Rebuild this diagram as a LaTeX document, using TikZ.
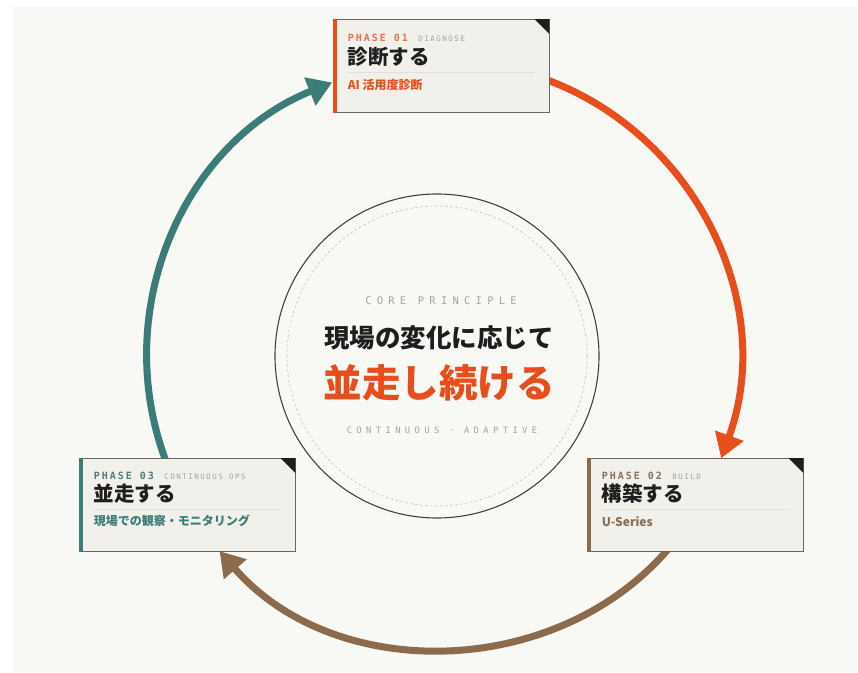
\documentclass[tikz,border=0pt]{standalone}
\usepackage{fontspec}
\usepackage{tikz}
\usetikzlibrary{arrows.meta,
  positioning,
  calc
}

\newfontfamily\jpfont{Noto Sans CJK JP}
\newfontfamily\tagmono[LetterSpace=20]{DejaVu Sans Mono}
\newfontfamily\widemono[LetterSpace=50]{DejaVu Sans Mono}

\definecolor{bgpaper}{HTML}{F8F8F4}
\definecolor{cardfill}{HTML}{F2F0EA}
\definecolor{phaseorange}{HTML}{E84E1B}
\definecolor{phasebrown}{HTML}{8B6B4B}
\definecolor{phaseteal}{HTML}{3C7C78}
\definecolor{labelgray}{HTML}{A3A3A0}
\definecolor{inkdark}{HTML}{1E1E1E}

\begin{document}
\begin{tikzpicture}[x=1pt, y=1pt, every node/.style={inner sep=0pt}]

        % Stile
        \tikzstyle{phasecard}=[draw=black!60, line width=0.8pt, fill=cardfill, minimum width=216pt, minimum height=93pt]
        \tikzstyle{phasetag}=[anchor=base west, font=\tagmono\bfseries\fontsize{10}{12}\selectfont]
        \tikzstyle{phaseeng}=[anchor=base west, text=labelgray, font=\tagmono\fontsize{7.5}{9}\selectfont]
        \tikzstyle{phasetitle}=[anchor=west, text=inkdark, font=\jpfont\bfseries\fontsize{20.5}{24}\selectfont]
        \tikzstyle{phasesub}=[anchor=west, font=\jpfont\bfseries\fontsize{12}{14}\selectfont]
        \tikzstyle{phaserule}=[draw=black!12, line width=0.8pt]
        \tikzstyle{cycleflow}=[line width=7pt, -{Triangle[length=24pt, width=29pt]}]

        % Hintergrund
        \useasboundingbox (0,0) rectangle (858,672);
        \fill[white] (0,0) rectangle (858,672);
        \fill[bgpaper] (13,0) rectangle (858,665);

        % Kreislauf
        \coordinate (cyc) at (443,315);
        \coordinate (p1out) at ($(cyc)+(72:296)$);
        \coordinate (p2in) at ($(cyc)+(-20:296)$);
        \coordinate (p2out) at ($(cyc)+(-38:296)$);
        \coordinate (p3in) at ($(cyc)+(-139:296)$);
        \coordinate (p3out) at ($(cyc)+(202:296)$);
        \coordinate (p1in) at ($(cyc)+(112:296)$);

        \draw[cycleflow, phaseorange] (p1out) to[bend left=46] (p2in);
        \draw[cycleflow, phasebrown] (p2out) to[bend left=50.5] (p3in);
        \draw[cycleflow, phaseteal] (p3out) to[bend left=45] (p1in);

        % Kern
        \node[circle, draw=inkdark!85, line width=1.1pt, minimum size=324pt] (core) at (437,316) {};
        \draw[labelgray!70, line width=0.6pt, dash pattern=on 2.5pt off 2.5pt] (core.center) circle[radius=150];
        \node[text=labelgray, font=\widemono\fontsize{10.5}{12}\selectfont] (corehead) at ($(core.center)+(4,55)$) {CORE PRINCIPLE};
        \node[text=inkdark, font=\jpfont\bfseries\fontsize{25.5}{30}\selectfont] (coreline) at ($(core.center)+(2,18)$) {現場の変化に応じて};
        \node[text=phaseorange, font=\jpfont\bfseries\fontsize{38.5}{44}\selectfont] (coremain) at ($(core.center)+(2,-27)$) {並走し続ける};
        \node[text=labelgray, font=\widemono\fontsize{8.8}{11}\selectfont] (corefoot) at ($(core.center)+(5,-74)$) {CONTINUOUS · ADAPTIVE};

        % Phase 01
        \node[phasecard] (p1) at (441,606) {};
        \draw[phaseorange, line width=4pt] ([xshift=2pt]p1.north west) -- ([xshift=2pt]p1.south west);
        \fill[inkdark] (p1.north east) -- ++(-15,0) -- ++(15,-15) -- cycle;
        \node[phasetag, text=phaseorange!80] (p1tag) at ([xshift=15pt, yshift=-22pt]p1.north west) {PHASE 01};
        \node[phaseeng] (p1eng) at ([xshift=10pt]p1tag.base east) {DIAGNOSE};
        \node[phasetitle] (p1title) at ([xshift=15pt, yshift=-38pt]p1.north west) {診断する};
        \draw[phaserule] ([xshift=15pt, yshift=-53pt]p1.north west) -- ([xshift=-15pt, yshift=-53pt]p1.north east);
        \node[phasesub, text=phaseorange] (p1sub) at ([xshift=15pt, yshift=-66pt]p1.north west) {AI 活用度診断};

        % Phase 02
        \node[phasecard] (p2) at (695,167) {};
        \draw[phasebrown, line width=4pt] ([xshift=2pt]p2.north west) -- ([xshift=2pt]p2.south west);
        \fill[inkdark] (p2.north east) -- ++(-15,0) -- ++(15,-15) -- cycle;
        \node[phasetag, text=phasebrown!75!gray] (p2tag) at ([xshift=15pt, yshift=-21pt]p2.north west) {PHASE 02};
        \node[phaseeng] (p2eng) at ([xshift=10pt]p2tag.base east) {BUILD};
        \node[phasetitle] (p2title) at ([xshift=15pt, yshift=-36pt]p2.north west) {構築する};
        \draw[phaserule] ([xshift=15pt, yshift=-51pt]p2.north west) -- ([xshift=-15pt, yshift=-51pt]p2.north east);
        \node[phasesub, text=phasebrown!85!gray] (p2sub) at ([xshift=15pt, yshift=-63pt]p2.north west) {U-Series};

        % Phase 03
        \node[phasecard] (p3) at (187,167) {};
        \draw[phaseteal, line width=4pt] ([xshift=2pt]p3.north west) -- ([xshift=2pt]p3.south west);
        \fill[inkdark] (p3.north east) -- ++(-15,0) -- ++(15,-15) -- cycle;
        \node[phasetag, text=phaseteal!75!gray] (p3tag) at ([xshift=15pt, yshift=-21pt]p3.north west) {PHASE 03};
        \node[phaseeng] (p3eng) at ([xshift=10pt]p3tag.base east) {CONTINUOUS OPS};
        \node[phasetitle] (p3title) at ([xshift=15pt, yshift=-36pt]p3.north west) {並走する};
        \draw[phaserule] ([xshift=15pt, yshift=-51pt]p3.north west) -- ([xshift=-15pt, yshift=-51pt]p3.north east);
        \node[phasesub, text=phaseteal] (p3sub) at ([xshift=15pt, yshift=-63pt]p3.north west) {現場での観察・モニタリング};

\end{tikzpicture}
\end{document}
